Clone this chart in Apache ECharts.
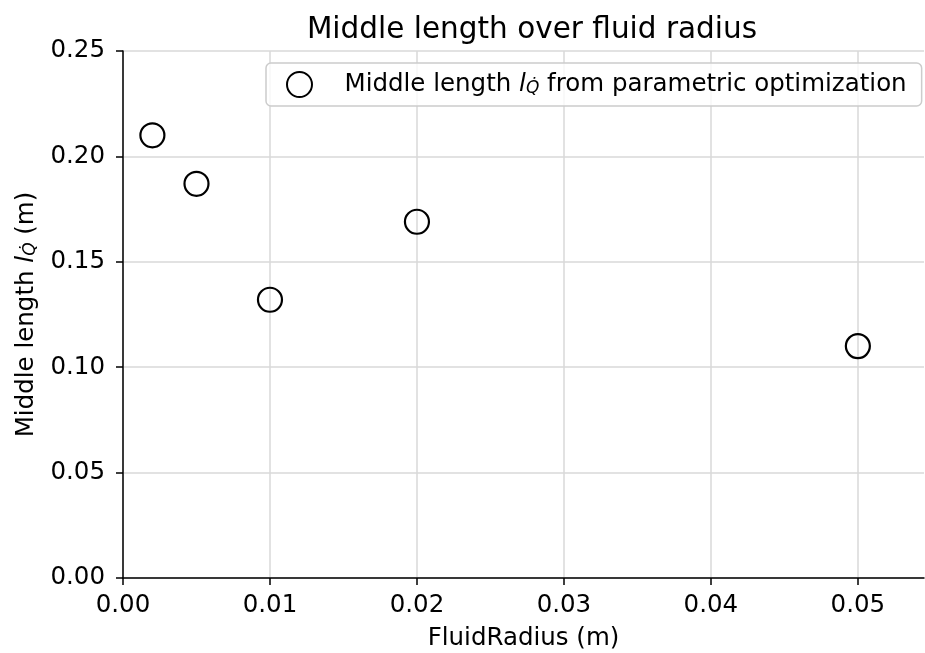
<!DOCTYPE html>
<html>
<head>
<meta charset="utf-8">
<script src="https://cdn.jsdelivr.net/npm/echarts@6/dist/echarts.min.js"></script>
<style>html,body{margin:0;padding:0;background:#fff}#c{width:925px;height:653px}</style>
</head>
<body>
<div id="c"></div>
<script>
const fluidRadius = [0.002, 0.005, 0.01, 0.02, 0.05];
const middleLength = [0.210, 0.187, 0.132, 0.169, 0.110];
const xTicks = [0, 0.01, 0.02, 0.03, 0.04, 0.05];
const yTicks = [0, 0.05, 0.10, 0.15, 0.20, 0.25];
const titleText = 'Middle length over fluid radius';
const xName = 'FluidRadius (m)';
const seriesName = 'Middle length l_Q from parametric optimization';

const FONT = 'DejaVu Sans';
const FS = 24.5;
const chart = echarts.init(document.getElementById('c'), null, {renderer: 'canvas'});
const richSub = {
  i: {fontFamily: FONT, fontStyle: 'italic', fontSize: FS, color: '#000'},
  s: {fontFamily: FONT, fontStyle: 'italic', fontSize: 17, color: '#000', verticalAlign: 'bottom', lineHeight: 14},
  n: {fontFamily: FONT, fontSize: FS, color: '#000'}
};
chart.setOption({
  animation: false,
  backgroundColor: '#fff',
  textStyle: {fontFamily: FONT},
  title: {
    text: titleText,
    left: 527, top: 10, textAlign: 'center',
    textStyle: {fontFamily: FONT, fontSize: 29.5, fontWeight: 'normal', color: '#000'}
  },
  grid: {left: 123, right: 1, top: 51, bottom: 75, containLabel: false, outerBoundsMode: 'none'},
  legend: {
    left: 266, top: 63,
    padding: [8, 15, 8, 20],
    itemWidth: 68, itemHeight: 25,
    icon: 'circle',
    backgroundColor: 'rgba(255,255,255,0.8)',
    borderColor: '#cccccc', borderWidth: 1.5, borderRadius: 5,
    formatter: function () {
      return '{n|Middle length }{i|l}{s|Q\u0307}{n| from parametric optimization}';
    },
    textStyle: {fontFamily: FONT, fontSize: FS, color: '#000', padding: [0, 0, 0, 6], rich: richSub}
  },
  xAxis: {
    type: 'value', min: 0, max: 0.0545, interval: 0.01,
    name: xName, nameLocation: 'middle', nameGap: 48,
    nameTextStyle: {fontFamily: FONT, fontSize: FS, color: '#000'},
    axisLine: {show: true, onZero: false, lineStyle: {color: '#000', width: 1.5}},
    axisTick: {show: true, inside: false, length: 7, lineStyle: {color: '#000', width: 1.5}, customValues: xTicks},
    axisLabel: {customValues: xTicks, margin: 15, fontFamily: FONT, fontSize: FS, color: '#000', formatter: v => v.toFixed(2)},
    splitLine: {show: true, lineStyle: {color: '#d9d9d9', width: 1.5}}
  },
  yAxis: {
    type: 'value', min: 0, max: 0.25, interval: 0.05,
    name: '{n|Middle length }{i|l}{s|Q\u0307}{n| (m)}', nameLocation: 'middle', nameGap: 80,
    nameTextStyle: {fontFamily: FONT, fontSize: FS, color: '#000', rich: richSub},
    axisLine: {show: true, onZero: false, lineStyle: {color: '#000', width: 1.5}},
    axisTick: {show: true, inside: false, length: 7, lineStyle: {color: '#000', width: 1.5}, customValues: yTicks},
    axisLabel: {customValues: yTicks, margin: 18, fontFamily: FONT, fontSize: FS, color: '#000', formatter: v => v.toFixed(2)},
    splitLine: {show: true, lineStyle: {color: '#d9d9d9', width: 1.5}}
  },
  series: [{
    name: seriesName,
    type: 'scatter',
    symbol: 'circle',
    symbolSize: 24,
    data: fluidRadius.map((x, i) => [x, middleLength[i]]),
    itemStyle: {color: 'rgba(255,255,255,0)', borderColor: '#000', borderWidth: 2.2, opacity: 1},
    z: 5
  }]
});
</script>
</body>
</html>
